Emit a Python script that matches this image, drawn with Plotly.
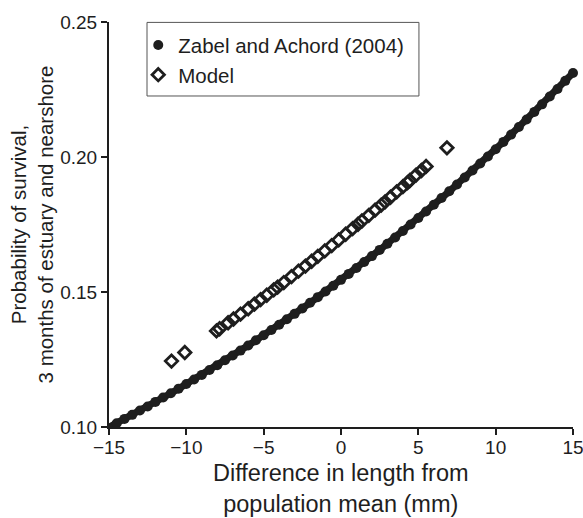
import plotly.graph_objects as go

# Zabel and Achord (2004) curve
zabel_x = [-15, -14.5, -14, -13.5, -13, -12.5, -12, -11.5, -11, -10.5, -10, -9.5, -9, -8.5, -8,
           -7.5, -7, -6.5, -6, -5.5, -5, -4.5, -4, -3.5, -3, -2.5, -2, -1.5, -1, -0.5, 0,
           0.5, 1, 1.5, 2, 2.5, 3, 3.5, 4, 4.5, 5, 5.5, 6, 6.5, 7, 7.5, 8, 8.5, 9, 9.5, 10,
           10.5, 11, 11.5, 12, 12.5, 13, 13.5, 14, 14.5, 15]
zabel_y = [0.0999, 0.1014, 0.1030, 0.1045, 0.1061, 0.1076, 0.1093, 0.1109, 0.1125, 0.1142, 0.1159,
           0.1176, 0.1193, 0.1211, 0.1229, 0.1247, 0.1265, 0.1283, 0.1302, 0.1321, 0.1340,
           0.1359, 0.1379, 0.1399, 0.1419, 0.1439, 0.1460, 0.1481, 0.1502, 0.1523, 0.1545,
           0.1567, 0.1589, 0.1611, 0.1633, 0.1656, 0.1679, 0.1702, 0.1726, 0.1750, 0.1774,
           0.1798, 0.1823, 0.1848, 0.1873, 0.1898, 0.1924, 0.1950, 0.1976, 0.2002, 0.2029,
           0.2056, 0.2083, 0.2111, 0.2139, 0.2167, 0.2195, 0.2224, 0.2252, 0.2282, 0.2311]

# Model points
model_x = [-10.96, -10.1, -8.05, -7.85, -7.3, -6.95, -6.5, -6.0, -5.6, -5.2, -4.8, -4.35, -4.1,
           -3.7, -3.2, -2.75, -2.3, -1.9, -1.5, -1.05, -0.6, -0.15, 0.3, 0.75, 1.1, 1.35, 1.8,
           2.2, 2.6, 2.85, 3.2, 3.6, 4.0, 4.3, 4.45, 4.85, 5.2, 5.5, 6.85]
model_y = [0.1244, 0.1276, 0.1356, 0.1364, 0.1386, 0.1400, 0.1418, 0.1438, 0.1455, 0.1472, 0.1488,
           0.1508, 0.1518, 0.1535, 0.1557, 0.1577, 0.1596, 0.1614, 0.1632, 0.1652, 0.1672,
           0.1693, 0.1714, 0.1735, 0.1751, 0.1763, 0.1784, 0.1803, 0.1822, 0.1834, 0.1851,
           0.1871, 0.1890, 0.1905, 0.1913, 0.1933, 0.1950, 0.1965, 0.2034]

x_ticks = [-15, -10, -5, 0, 5, 10, 15]
y_ticks = [0.10, 0.15, 0.20, 0.25]

x_title = "Difference in length from<br>population mean (mm)"
y_title = "Probability of survival,<br>3 months of estuary and nearshore"

ink = "#1e1e1e"
font = "Liberation Sans, Arial, sans-serif"

fig = go.Figure()
# thick band joining the densely packed dots
fig.add_trace(go.Scatter(
    x=zabel_x, y=zabel_y, mode="lines", showlegend=False, hoverinfo="skip",
    line=dict(color=ink, width=7), cliponaxis=False,
))
fig.add_trace(go.Scatter(
    x=zabel_x, y=zabel_y, mode="markers", name="Zabel and Achord (2004)",
    marker=dict(symbol="circle", size=10, color=ink),
    cliponaxis=False,
))
fig.add_trace(go.Scatter(
    x=model_x, y=model_y, mode="markers", name="Model",
    marker=dict(symbol="diamond-open", size=9.5, color=ink, line=dict(width=2.8, color=ink)),
    cliponaxis=False,
))

fig.update_layout(
    width=583, height=518,
    margin=dict(l=109, r=10, t=22, b=91, autoexpand=False),
    paper_bgcolor="white", plot_bgcolor="white",
    font=dict(family=font, color=ink, size=19),
    showlegend=True,
    legend=dict(
        x=0.063, y=0.992, xanchor="left", yanchor="top",
        borderwidth=0, bgcolor="rgba(0,0,0,0)",
        font=dict(size=20.5, color=ink, family=font),
        itemwidth=30,
    ),
    shapes=[dict(
        type="rect", xref="paper", yref="paper",
        x0=0.0819, x1=0.668, y0=0.8173, y1=0.999,
        line=dict(color="#555555", width=1), fillcolor="rgba(0,0,0,0)",
    )],
    annotations=[dict(
        text=x_title, xref="paper", yref="paper", x=0.5, y=-0.152,
        xanchor="center", yanchor="middle", showarrow=False,
        font=dict(size=23.5, color=ink, family=font),
    )],
    xaxis=dict(
        range=[-15, 15], tickvals=x_ticks,
        ticktext=[("\u2212" + str(-v)) if v < 0 else str(v) for v in x_ticks],
        showgrid=False, zeroline=False, automargin=False,
        showline=True, linecolor=ink, linewidth=2,
        ticks="outside", ticklen=6, tickwidth=2, tickcolor=ink,
        tickfont=dict(size=19), ticklabeloverflow="allow", ticklabelstandoff=-4,
    ),
    yaxis=dict(
        range=[0.10, 0.25], tickvals=y_ticks, ticktext=["%.2f" % v for v in y_ticks],
        showgrid=False, zeroline=False, automargin=False,
        showline=True, linecolor=ink, linewidth=2,
        ticks="outside", ticklen=6, tickwidth=2, tickcolor=ink,
        tickfont=dict(size=19),
        title=dict(text=y_title, font=dict(size=20.5), standoff=1),
    ),
)

fig.write_html("out.html", config={"displayModeBar": False},
               post_script="document.body.style.margin='0px';")
